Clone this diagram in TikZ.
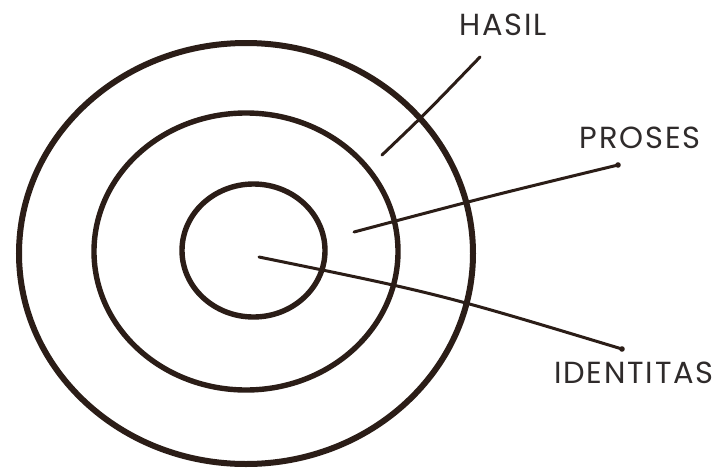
\documentclass[tikz,border=0pt]{standalone}
\usepackage{fontspec}
\setmainfont{Poppins}[LetterSpace=6]
\definecolor{ink}{HTML}{2B1D17}
\definecolor{txt}{HTML}{2F2B2B}
\begin{document}
\begin{tikzpicture}[x=1pt,y=-1pt,
  ring/.style={draw=ink,line width=5.4pt},
  leader/.style={draw=ink,line width=3pt,line cap=round},
  lbl/.style={text=txt,font=\fontsize{30.5}{35}\selectfont,inner sep=0pt}]
\useasboundingbox (0,0) rectangle (715,472);
\fill[white] (0,0) rectangle (715,472);
\draw[ring,line width=6pt] (246,253.5) ellipse [x radius=227, y radius=210.5];
\draw[ring] (246,251.5) ellipse [x radius=152, y radius=138.5];
\draw[ring] (253.5,250.5) ellipse [x radius=71.5, y radius=66.5];
\node[lbl] (hasil) at (503,25) {HASIL};
\node[lbl] (proses) at (640,138) {PROSES};
\node[lbl] (identitas) at (634,373) {IDENTITAS};
\coordinate (h0) at (382,155);
\coordinate (h1) at (480,57);
\coordinate (p0) at (354,232);
\coordinate (p1) at (618,165);
\coordinate (i0) at (259,257);
\coordinate (i1) at (622,349);
\draw[leader] (h0) .. controls (426,113) .. (h1);
\draw[leader] (p0) .. controls (486,197) .. (p1);
\draw[leader] (i0) .. controls (440,294) .. (i1);
\fill[ink] (p1) circle (2.8);
\fill[ink] (i1) circle (2.8);
\end{tikzpicture}
\end{document}
